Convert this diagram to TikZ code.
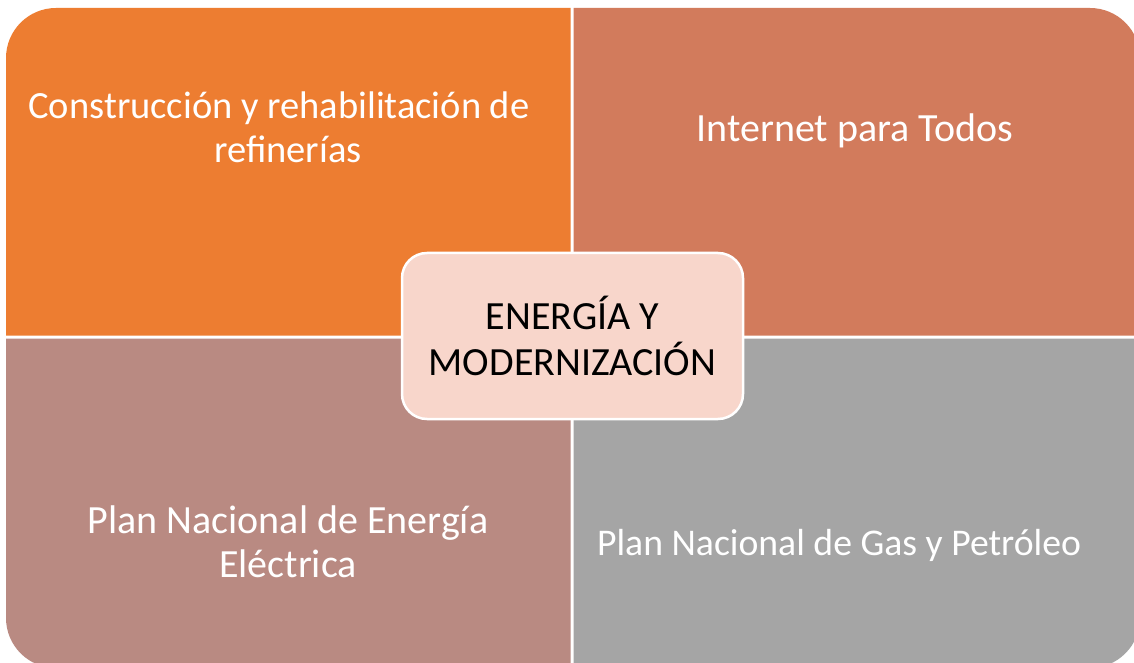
\documentclass[tikz,border=0pt]{standalone}
\usepackage{fontspec}
\setmainfont{Carlito}
\definecolor{qorange}{HTML}{ED7D31}
\definecolor{qsalmon}{HTML}{D27B5C}
\definecolor{qmauve}{HTML}{B98A82}
\definecolor{qgray}{HTML}{A5A5A5}
\definecolor{qcenter}{HTML}{F8D6CB}
\tikzset{
  quadtext/.style={text=white, align=center, inner sep=0pt, anchor=base},
  hubbox/.style={fill=qcenter, draw=white, line width=2.5pt, rounded corners=25pt,
    minimum width=341pt, minimum height=166pt, inner sep=0pt, align=center,
    font=\fontsize{40}{46}\selectfont, text=black}
}
\begin{document}
\begin{tikzpicture}[x=1pt,y=1pt]
\useasboundingbox (0,0) rectangle (1134,662);
\clip (0,0) rectangle (1134,662);
\fill[white] (0,0) rectangle (1134,662);
% quadrants
\fill[qorange] (6,326.5) -- (6,604) arc[start angle=180,end angle=90,radius=50] -- (570.5,654) -- (570.5,326.5) -- cycle;
\fill[qsalmon] (573.5,326.5) -- (573.5,654) -- (1090,654) arc[start angle=90,end angle=0,radius=50] -- (1140,326.5) -- cycle;
\fill[qmauve] (6,323.5) -- (6,44) arc[start angle=180,end angle=270,radius=50] -- (570.5,-6) -- (570.5,323.5) -- cycle;
\fill[qgray] (573.5,323.5) -- (1140,323.5) -- (1140,44) arc[start angle=0,end angle=-90,radius=50] -- (573.5,-6) -- cycle;
% texts
\node[quadtext, font=\fontsize{38.5}{44}\selectfont] (tl) at (288,499) {Construcción y rehabilitación de\hspace*{18pt}\\refinerías};
\node[quadtext, font=\fontsize{40}{44}\selectfont] (tr) at (855,520.5) {Internet para Todos};
\node[quadtext, font=\fontsize{40}{44}\selectfont] (bl) at (288,85) {Plan Nacional de Energía\\Eléctrica};
\node[quadtext, font=\fontsize{37.7}{44}\selectfont] (br) at (839,107) {Plan Nacional de Gas y Petróleo};
% hub
\node[hubbox] (hub) at (572.5,326) {ENERGÍA Y\\MODERNIZACIÓN};
\end{tikzpicture}
\end{document}
